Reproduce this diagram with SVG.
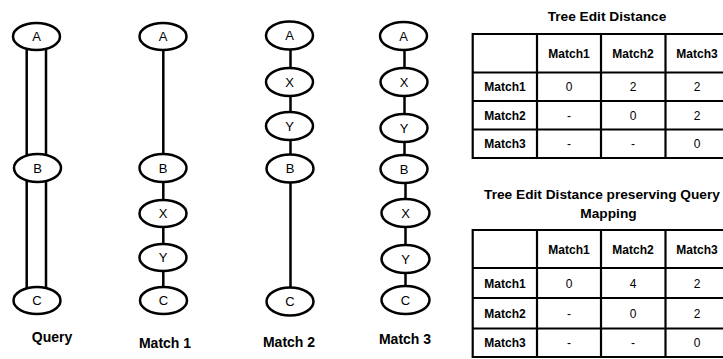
<svg xmlns="http://www.w3.org/2000/svg" width="723" height="359" viewBox="0 0 723 359">
<style>
.n ellipse{fill:#fff;stroke:#000;stroke-width:2.5}
.n text{font-family:"Liberation Sans",Arial,sans-serif;font-size:13px;fill:#000;text-anchor:middle}
.e line{stroke:#000;stroke-width:2.5}
.lbl{font-family:"Liberation Sans",Arial,sans-serif;font-size:14px;font-weight:bold;text-anchor:middle;fill:#000}
.ttl{font-family:"Liberation Sans",Arial,sans-serif;font-size:13.7px;font-weight:bold;text-anchor:middle;fill:#000}
.grid line{stroke:#000;stroke-width:2.2}
.th{font-family:"Liberation Sans",Arial,sans-serif;font-size:12px;font-weight:bold;text-anchor:middle;fill:#000}
.td{font-family:"Liberation Sans",Arial,sans-serif;font-size:12px;text-anchor:middle;fill:#000}
</style>
<rect width="723" height="359" fill="#fff"/>
<g id="connectors" class="e">
<line x1="26.7" y1="46" x2="26.7" y2="158"/>
<line x1="46" y1="46" x2="46" y2="158"/>
<line x1="26.7" y1="178" x2="26.7" y2="290"/>
<line x1="46" y1="178" x2="46" y2="290"/>
<line x1="163.3" y1="36" x2="163.3" y2="300"/>
<line x1="290.5" y1="36" x2="290.5" y2="301"/>
<line x1="404.5" y1="36" x2="404.5" y2="169"/>
<line x1="405.5" y1="169" x2="405.5" y2="300"/>
</g>
<g id="q-A" class="n"><ellipse cx="36.5" cy="36.5" rx="23.5" ry="13.5"/><text x="36.5" y="41">A</text></g>
<g id="q-B" class="n"><ellipse cx="37.5" cy="168" rx="23.5" ry="14"/><text x="37.5" y="172.5">B</text></g>
<g id="q-C" class="n"><ellipse cx="37" cy="300.5" rx="23.5" ry="13.5"/><text x="37" y="305">C</text></g>
<g id="m1-A" class="n"><ellipse cx="163" cy="36.5" rx="23.5" ry="13.5"/><text x="163" y="41">A</text></g>
<g id="m1-B" class="n"><ellipse cx="163" cy="168" rx="23.5" ry="14"/><text x="163" y="172.5">B</text></g>
<g id="m1-X" class="n"><ellipse cx="163" cy="213.5" rx="23.5" ry="13.5"/><text x="163" y="218">X</text></g>
<g id="m1-Y" class="n"><ellipse cx="163" cy="257.5" rx="23.5" ry="13.5"/><text x="163" y="262">Y</text></g>
<g id="m1-C" class="n"><ellipse cx="163.5" cy="300.5" rx="23.5" ry="13.5"/><text x="163.5" y="305">C</text></g>
<g id="m2-A" class="n"><ellipse cx="289.5" cy="35.5" rx="23.5" ry="14"/><text x="289.5" y="40">A</text></g>
<g id="m2-X" class="n"><ellipse cx="289.5" cy="82" rx="23.5" ry="14"/><text x="289.5" y="86.5">X</text></g>
<g id="m2-Y" class="n"><ellipse cx="289.5" cy="126" rx="23.5" ry="14"/><text x="289.5" y="130.5">Y</text></g>
<g id="m2-B" class="n"><ellipse cx="290" cy="168.5" rx="23.5" ry="14"/><text x="290" y="173">B</text></g>
<g id="m2-C" class="n"><ellipse cx="290" cy="301.5" rx="23.5" ry="14"/><text x="290" y="306">C</text></g>
<g id="m3-A" class="n"><ellipse cx="403.5" cy="36" rx="23.5" ry="14"/><text x="403.5" y="40.5">A</text></g>
<g id="m3-X" class="n"><ellipse cx="404" cy="82" rx="23.5" ry="14"/><text x="404" y="86.5">X</text></g>
<g id="m3-Y" class="n"><ellipse cx="404" cy="128" rx="23.5" ry="14"/><text x="404" y="132.5">Y</text></g>
<g id="m3-B" class="n"><ellipse cx="404" cy="169" rx="23.5" ry="14"/><text x="404" y="173.5">B</text></g>
<g id="m3-X2" class="n"><ellipse cx="405.5" cy="213" rx="24" ry="14"/><text x="405.5" y="217.5">X</text></g>
<g id="m3-Y2" class="n"><ellipse cx="405.5" cy="259" rx="24" ry="14"/><text x="405.5" y="263.5">Y</text></g>
<g id="m3-C" class="n"><ellipse cx="405.5" cy="300" rx="24" ry="14"/><text x="405.5" y="304.5">C</text></g>
<g id="labels">
<text class="lbl" x="52" y="342">Query</text>
<text class="lbl" x="165" y="348">Match 1</text>
<text class="lbl" x="289" y="347">Match 2</text>
<text class="lbl" x="405" y="344">Match 3</text>
</g>
<g id="table1">
<text class="ttl" x="607" y="21">Tree Edit Distance</text>
<g class="grid">
<line x1="472.7" y1="34" x2="730" y2="34"/>
<line x1="472.7" y1="72.5" x2="730" y2="72.5"/>
<line x1="472.7" y1="101" x2="730" y2="101"/>
<line x1="472.7" y1="129.5" x2="730" y2="129.5"/>
<line x1="472.7" y1="158" x2="730" y2="158"/>
<line x1="472.7" y1="33" x2="472.7" y2="159"/>
<line x1="537" y1="33" x2="537" y2="159"/>
<line x1="601" y1="33" x2="601" y2="159"/>
<line x1="665.5" y1="33" x2="665.5" y2="159"/>
</g>
<text class="th" x="569" y="57.5">Match1</text>
<text class="th" x="633" y="57.5">Match2</text>
<text class="th" x="697" y="57.5">Match3</text>
<text class="th" x="505" y="91">Match1</text>
<text class="th" x="505" y="119.5">Match2</text>
<text class="th" x="505" y="148">Match3</text>
<text class="td" x="569" y="91">0</text>
<text class="td" x="633" y="91">2</text>
<text class="td" x="697" y="91">2</text>
<text class="td" x="569" y="119.5">-</text>
<text class="td" x="633" y="119.5">0</text>
<text class="td" x="697" y="119.5">2</text>
<text class="td" x="569" y="148">-</text>
<text class="td" x="633" y="148">-</text>
<text class="td" x="697" y="148">0</text>
</g>
<g id="table2">
<text class="ttl" x="602" y="199">Tree Edit Distance preserving Query</text>
<text class="ttl" x="608.5" y="218">Mapping</text>
<g class="grid">
<line x1="472.7" y1="230" x2="730" y2="230"/>
<line x1="472.7" y1="268" x2="730" y2="268"/>
<line x1="472.7" y1="298" x2="730" y2="298"/>
<line x1="472.7" y1="328.5" x2="730" y2="328.5"/>
<line x1="472.7" y1="357" x2="730" y2="357"/>
<line x1="472.7" y1="229" x2="472.7" y2="358"/>
<line x1="537" y1="229" x2="537" y2="358"/>
<line x1="601" y1="229" x2="601" y2="358"/>
<line x1="665.5" y1="229" x2="665.5" y2="358"/>
</g>
<text class="th" x="569" y="253.5">Match1</text>
<text class="th" x="633" y="253.5">Match2</text>
<text class="th" x="697" y="253.5">Match3</text>
<text class="th" x="505" y="287.5">Match1</text>
<text class="th" x="505" y="317.5">Match2</text>
<text class="th" x="505" y="347">Match3</text>
<text class="td" x="569" y="287.5">0</text>
<text class="td" x="633" y="287.5">4</text>
<text class="td" x="697" y="287.5">2</text>
<text class="td" x="569" y="317.5">-</text>
<text class="td" x="633" y="317.5">0</text>
<text class="td" x="697" y="317.5">2</text>
<text class="td" x="569" y="347">-</text>
<text class="td" x="633" y="347">-</text>
<text class="td" x="697" y="347">0</text>
</g>
</svg>
